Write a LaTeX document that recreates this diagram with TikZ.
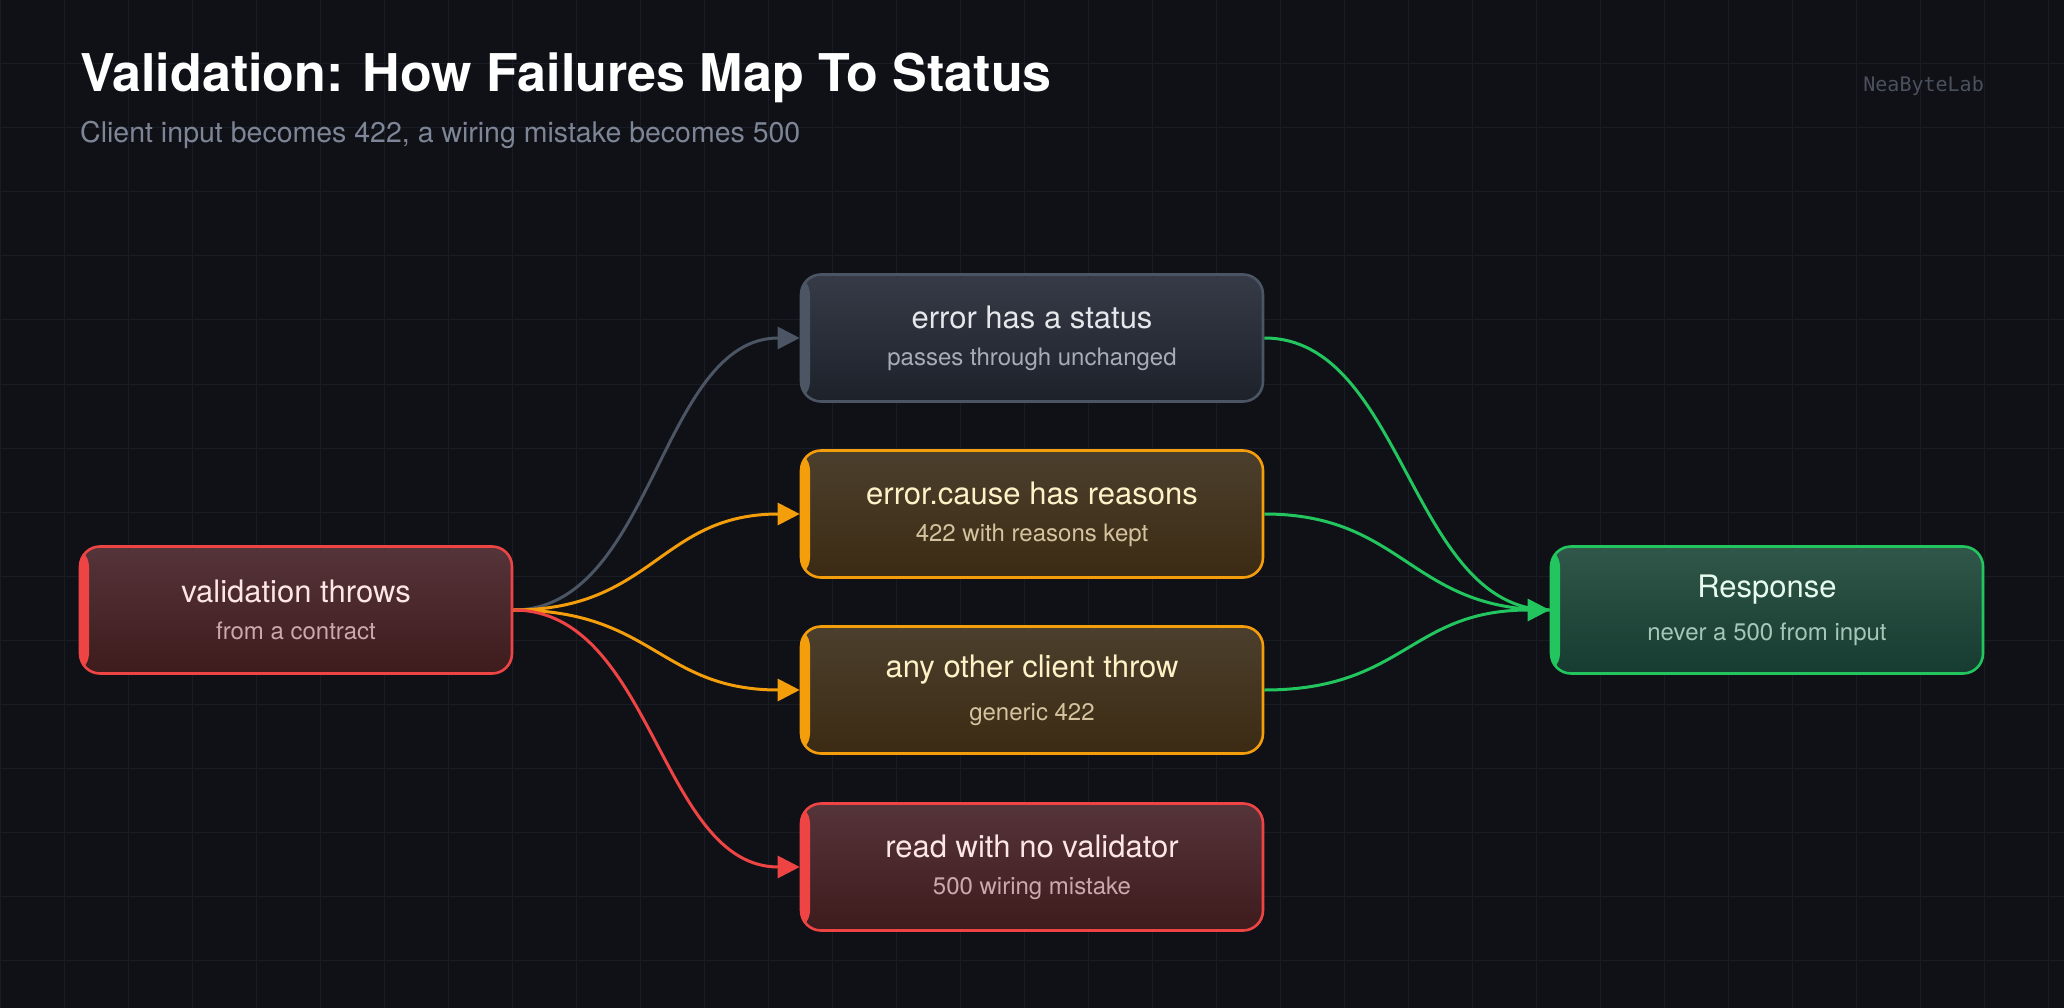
\documentclass[tikz,border=0pt]{standalone}
\usepackage{fontspec}
\setmainfont{TeX Gyre Heros}
\newfontfamily\monof{DejaVu Sans Mono}
\usetikzlibrary{arrows.meta,shadings}
\definecolor{bg}{HTML}{0F1117}
\definecolor{gridc}{HTML}{191C24}
\definecolor{redc}{HTML}{EF4444}
\definecolor{grayc}{HTML}{4B5563}
\definecolor{orc}{HTML}{F59E0B}
\definecolor{grc}{HTML}{22C55E}
\definecolor{redt}{HTML}{55343A}\definecolor{redb}{HTML}{3E1B1C}\definecolor{redx}{HTML}{FDE6E6}
\definecolor{grat}{HTML}{363B47}\definecolor{grab}{HTML}{1D212A}\definecolor{grax}{HTML}{E5E7EB}
\definecolor{ort}{HTML}{4B3F2D}\definecolor{orb}{HTML}{3C2B13}\definecolor{orx}{HTML}{FEF3C7}
\definecolor{grt}{HTML}{30574A}\definecolor{grb}{HTML}{163B30}\definecolor{grx}{HTML}{E6FBEE}
\definecolor{subc}{HTML}{7D8597}\definecolor{brandc}{HTML}{4A505D}
\newcommand\ttlf{\fontsize{31}{36}\selectfont}
\newcommand\subf{\fontsize{24}{28}\selectfont}
\tikzset{
  box/.style n args={5}{draw=#1, line width=2.6pt, rounded corners=20pt,
    minimum width=#2, minimum height=127pt, top color=#3, bottom color=#4,
    align=center, text=#5,
    path picture={\fill[#1] (path picture bounding box.north west) rectangle ([xshift=9pt]path picture bounding box.south west);}},
  edge/.style={line width=3pt, -{Triangle[length=22pt,width=22pt]}},
  gedge/.style={line width=3pt, grc},
}
\begin{document}
\begin{tikzpicture}[x=1pt,y=-1pt]
\fill[bg] (0,0) rectangle (2064,1008);
\useasboundingbox (0,0) rectangle (2064,1008);
\foreach \i in {0,64,...,2064} \draw[gridc, line width=1pt] (\i,0) -- (\i,1008);
\foreach \j in {0,64,...,1008} \draw[gridc, line width=1pt] (0,\j) -- (2064,\j);

\node[anchor=base west, inner sep=0pt, text=white, font=\bfseries\fontsize{52}{58}\selectfont] (title) at (80,92) {Validation: How Failures Map To Status};
\node[anchor=base west, inner sep=0pt, text=subc, font=\fontsize{28.5}{32}\selectfont] (subt) at (80,143) {Client input becomes 422, a wiring mistake becomes 500};
\node[anchor=base east, inner sep=0pt, font=\monof\fontsize{20}{24}\selectfont, text=brandc] (brand) at (1984,92) {NeaByteLab};

\node[box={redc}{432pt}{redt}{redb}{redx}] (src) at (296,610)
  {{\ttlf validation throws}\\[18pt]{\subf\color[HTML]{C9A9AA}from a contract}};
\node[box={grayc}{462pt}{grat}{grab}{grax}] (m1) at (1032,338)
  {{\ttlf error has a status}\\[18pt]{\subf\color[HTML]{A7ACB6}passes through unchanged}};
\node[box={orc}{462pt}{ort}{orb}{orx}] (m2) at (1032,514)
  {{\ttlf error.cause has reasons}\\[18pt]{\subf\color[HTML]{D4C39E}422 with reasons kept}};
\node[box={orc}{462pt}{ort}{orb}{orx}] (m3) at (1032,690)
  {{\ttlf any other client throw}\\[18pt]{\subf\color[HTML]{D4C39E}generic 422}};
\node[box={redc}{462pt}{redt}{redb}{redx}] (m4) at (1032,867)
  {{\ttlf read with no validator}\\[18pt]{\subf\color[HTML]{C9A9AA}500 wiring mistake}};
\node[box={grc}{432pt}{grt}{grb}{grx}] (resp) at (1767,610)
  {{\ttlf Response}\\[18pt]{\subf\color[HTML]{A5C7B8}never a 500 from input}};

\draw[edge, grayc] (src.east) .. controls +(140,0) and +(-140,0) .. (m1.west);
\draw[edge, orc] (src.east) .. controls +(140,0) and +(-140,0) .. (m2.west);
\draw[edge, orc] (src.east) .. controls +(140,0) and +(-140,0) .. (m3.west);
\draw[edge, redc] (src.east) .. controls +(140,0) and +(-140,0) .. (m4.west);
\draw[gedge] (m1.east) .. controls +(140,0) and +(-140,0) .. (resp.west);
\draw[gedge] (m2.east) .. controls +(140,0) and +(-140,0) .. (resp.west);
\draw[gedge, -{Triangle[length=22pt,width=22pt]}] (m3.east) .. controls +(140,0) and +(-140,0) .. (resp.west);
\end{tikzpicture}
\end{document}
